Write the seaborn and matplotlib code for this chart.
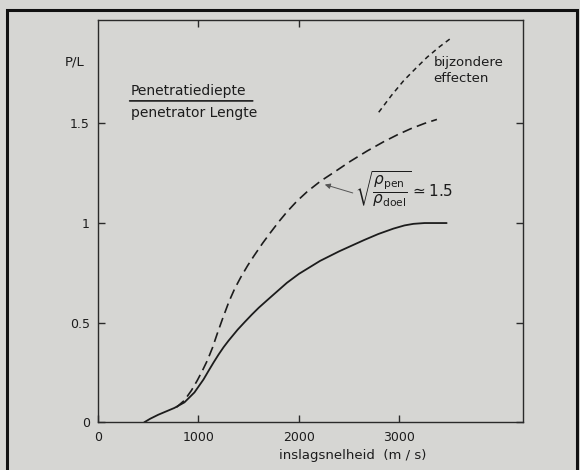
import matplotlib
matplotlib.use("Agg")
import matplotlib.pyplot as plt
from matplotlib.patches import Rectangle
import seaborn as sns
import pandas as pd

# values
solid_v = [460, 520, 600, 680, 760, 860, 960, 1050, 1100, 1150, 1200, 1250,
           1300, 1390, 1460, 1530, 1600, 1700, 1880, 2000, 2210, 2400, 2540,
           2650, 2790, 2940, 3050, 3140, 3250, 3470]
solid_pl = [0.0, 0.018, 0.038, 0.055, 0.072, 0.10, 0.15, 0.215, 0.258, 0.30,
            0.34, 0.377, 0.41, 0.465, 0.503, 0.54, 0.575, 0.62, 0.70, 0.745,
            0.81, 0.858, 0.89, 0.915, 0.945, 0.972, 0.988, 0.996, 1.0, 1.0]

dens_v = [780, 860, 930, 988, 1040, 1088, 1140, 1187, 1240, 1303, 1360, 1420,
          1490, 1552, 1640, 1718, 1800, 1884, 1980, 2083, 2214, 2350, 2512,
          2680, 2843, 2980, 3111, 3250, 3373]
dens_pl = [0.075, 0.11, 0.16, 0.21, 0.26, 0.31, 0.375, 0.445, 0.52, 0.605,
           0.67, 0.727, 0.787, 0.835, 0.90, 0.953, 1.007, 1.058, 1.11, 1.158,
           1.21, 1.255, 1.31, 1.362, 1.408, 1.443, 1.473, 1.50, 1.52]

special_v = [2794, 2920, 3043, 3160, 3275, 3400, 3524]
special_pl = [1.556, 1.64, 1.715, 1.775, 1.832, 1.885, 1.932]

x_ticks = [0, 1000, 2000, 3000]
y_ticks = [0, 0.5, 1, 1.5]
y_ticklabels = ["0", "0.5", "1", "1.5"]

bg = "#d6d6d3"
ink = "#1c1c1c"

sns.set_style("ticks")
plt.rcParams["font.family"] = ["DejaVu Sans"]

fig = plt.figure(figsize=(5.8, 4.7), dpi=100, facecolor=bg)
ax = fig.add_axes([98 / 580, 1 - 422.3 / 470, 425 / 580, 402.5 / 470])
ax.set_facecolor(bg)

solid = pd.DataFrame({"v": solid_v, "pl": solid_pl})
dens = pd.DataFrame({"v": dens_v, "pl": dens_pl})
special = pd.DataFrame({"v": special_v, "pl": special_pl})

sns.lineplot(data=solid, x="v", y="pl", ax=ax, color=ink, linewidth=1.3,
             estimator=None)
sns.lineplot(data=dens, x="v", y="pl", ax=ax, color=ink, linewidth=1.2,
             estimator=None, linestyle=(0, (6.0, 3.2)))
sns.lineplot(data=special, x="v", y="pl", ax=ax, color=ink, linewidth=1.1,
             estimator=None, linestyle=(0, (3.2, 2.6)))

ax.set_xlim(0, 4230)
ax.set_ylim(0, 2.02)
ax.set_xticks(x_ticks)
ax.set_yticks(y_ticks)
ax.set_yticklabels(y_ticklabels)
ax.tick_params(direction="in", length=5, width=1, color="#2a2a2a",
               labelsize=9, labelcolor=ink, right=True, top=False, pad=6)
top = ax.secondary_xaxis("top")
top.set_xticks([1000, 2000], labels=["", ""])
top.tick_params(direction="in", length=5, width=1, color="#2a2a2a")
top.spines["top"].set_visible(False)
for s in ax.spines.values():
    s.set_color("#2a2a2a")
    s.set_linewidth(1.0)

ax.set_ylabel("")
ax.set_xlabel("inslagsnelheid  (m / s)", fontsize=9.5, color=ink, va="center")
ax.xaxis.set_label_coords(0.6, -0.082)

ax.text(-0.056, 0.895, "P/L", transform=ax.transAxes, ha="center",
        va="center", fontsize=9.5, color=ink)

# fraction label, top-left
ax.text(325, 1.665, "Penetratiediepte", ha="left", va="center",
        fontsize=10, color=ink)
ax.text(325, 1.55, "penetrator Lengte", ha="left", va="center",
        fontsize=10, color=ink)
ax.annotate("", xy=(1540, 1.613), xytext=(315, 1.613),
            arrowprops=dict(arrowstyle="-", color=ink, lw=1.2,
                            shrinkA=0, shrinkB=0))

ax.text(3340, 1.765, "bijzondere\neffecten", ha="left", va="center",
        fontsize=9.5, color=ink, linespacing=1.3)
ax.text(3050, 1.17, r"$\sqrt{\dfrac{\rho_{\mathrm{pen}}}{\rho_{\mathrm{doel}}}}\simeq 1.5$",
        ha="center", va="center", fontsize=11, color=ink)
ax.annotate("", xy=(2231, 1.197), xytext=(2562, 1.147),
            arrowprops=dict(arrowstyle="-|>", color="#555555", lw=0.7,
                            mutation_scale=8))

fig.add_artist(Rectangle((6.5 / 580, -0.05), 570.5 / 580, 1.05 - 10 / 470,
                         transform=fig.transFigure, fill=False, lw=2.2,
                         ec="#111111"))

fig.savefig("out.png", dpi=100, facecolor=bg)
